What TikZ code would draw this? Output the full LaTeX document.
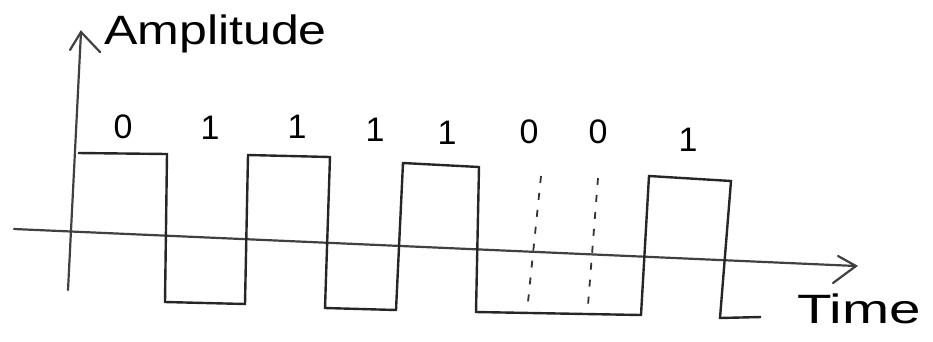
\documentclass[tikz,border=0pt]{standalone}
\usepackage{fontspec}
\setmainfont{Liberation Sans}
\begin{document}
\begin{tikzpicture}[x=1pt,y=-1pt,
  ink/.style={draw=black!85,line width=2.4pt,line join=miter},
  axisline/.style={draw=black!75,line width=2.2pt,line join=miter,line cap=round},
  guide/.style={draw=black!80,line width=1.8pt,dash pattern=on 7pt off 10pt},
  bit/.style={font=\fontsize{34}{38}\selectfont,inner sep=0pt},
  axlabel/.style={font=\fontsize{41}{46}\selectfont,inner sep=0pt,anchor=base west}]
\useasboundingbox (0,0) rectangle (933,341);
% axes
\coordinate (h0) at (14,229);
\coordinate (h1) at (856,266);
\coordinate (v0) at (68,290);
\coordinate (v1) at (81,32);
\coordinate (ha) at (838,256); \coordinate (hb) at (833,283);
\coordinate (va) at (70,50);   \coordinate (vb) at (100,52);
\draw[axisline] (h0) -- (h1);
\draw[axisline] (v0) -- (v1);
% arrow heads (open chevrons)
\draw[axisline] (ha) -- (h1) -- (hb);
\draw[axisline] (va) -- (v1) -- (vb);
% waveform
\draw[ink] (78,153) -- (167,154) -- (165,302) -- (245,304) -- (248,155)
  -- (330,157) -- (325,308) -- (396,310) -- (403,163) -- (479,167)
  -- (476,312) -- (641,315) -- (649,176) -- (731,181) -- (720,318) -- (761,317);
% dashed guides
\coordinate (d1a) at (541,176); \coordinate (d1b) at (528,302);
\coordinate (d2a) at (598,178); \coordinate (d2b) at (588,305);
\draw[guide] (d1a) -- (d1b);
\draw[guide] (d2a) -- (d2b);
% bit labels
\node[bit] (b1) at (123,127) {0};
\node[bit] (b2) at (210,128) {1};
\node[bit] (b3) at (297,127) {1};
\node[bit] (b4) at (375,130) {1};
\node[bit] (b5) at (447,133) {1};
\node[bit] (b6) at (529,132) {0};
\node[bit] (b7) at (598,132) {0};
\node[bit] (b8) at (688,140) {1};
% axis labels
\node[axlabel,xscale=1.22] (amp) at (104,44) {Amplitude};
\node[axlabel,xscale=1.38] (time) at (797,323) {Time};
\end{tikzpicture}
\end{document}
